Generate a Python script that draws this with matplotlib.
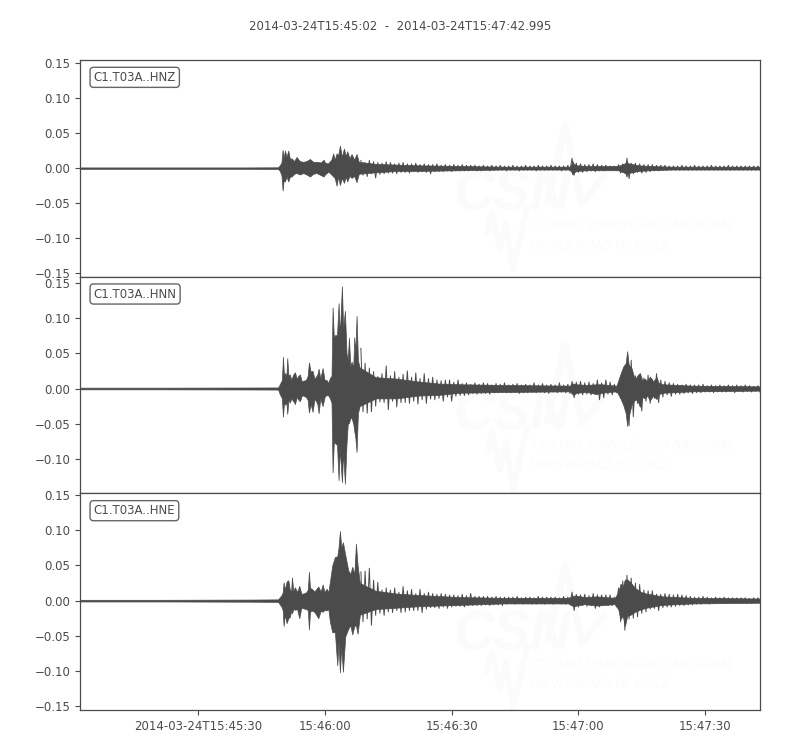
import matplotlib
matplotlib.use("Agg")
import matplotlib.pyplot as plt
import numpy as np

TITLE = "2014-03-24T15:45:02  -  2014-03-24T15:47:42.995"
DURATION = 160.995
CHANNELS = ["C1.T03A..HNZ", "C1.T03A..HNN", "C1.T03A..HNE"]
TICK_SECONDS = [28, 58, 88, 118, 148]
TICK_LABELS = ["2014-03-24T15:45:30", "15:46:00", "15:46:30", "15:47:00", "15:47:30"]
Y_TICKS = [-0.15, -0.10, -0.05, 0.00, 0.05, 0.10, 0.15]
Y_LIMITS = [(-0.1546, 0.1540), (-0.1487, 0.1586), (-0.1555, 0.1525)]

# body of each trace (seconds since start, upper, lower)
hnz_t = [0, 20, 40, 46.9, 47.3, 47.7, 47.97, 48.2, 48.52, 48.9, 49.31, 49.7, 50.1, 50.7, 51.28, 52.0, 52.86,
         53.6, 54.44, 55.2, 56.02, 57.0, 57.7, 57.99, 58.4, 58.78, 59.5, 59.96, 60.3, 60.75, 61.1, 61.54, 62.0,
         62.49, 62.9, 63.27, 63.8, 64.3, 64.9, 65.48, 66, 70, 75, 80, 90, 100, 115.9, 116.3, 116.6, 116.9, 117.6,
         120, 127.4, 128.2, 129.1, 129.4, 129.7, 130.6, 132.2, 135, 140, 160.995]
hnz_up = [0.001, 0.001, 0.001, 0.0012, 0.004, 0.008, 0.026, 0.014, 0.025, 0.016, 0.025, 0.013, 0.014, 0.010, 0.016,
          0.010, 0.009, 0.010, 0.013, 0.009, 0.009, 0.008, 0.012, 0.008, 0.007, 0.007, 0.012, 0.021, 0.012, 0.021,
          0.018, 0.032, 0.016, 0.028, 0.017, 0.024, 0.014, 0.020, 0.012, 0.020, 0.009, 0.006, 0.005, 0.004, 0.003,
          0.002, 0.002, 0.005, 0.010, 0.006, 0.004, 0.003, 0.003, 0.005, 0.007, 0.010, 0.007, 0.006, 0.004, 0.003,
          0.002, 0.002]
hnz_lo = [-0.001, -0.001, -0.001, -0.0012, -0.004, -0.010, -0.032, -0.018, -0.019, -0.012, -0.019, -0.012, -0.012,
          -0.008, -0.007, -0.009, -0.007, -0.009, -0.012, -0.008, -0.007, -0.010, -0.012, -0.009, -0.007, -0.005,
          -0.009, -0.012, -0.014, -0.025, -0.012, -0.024, -0.014, -0.021, -0.012, -0.019, -0.011, -0.014, -0.011,
          -0.020, -0.008, -0.006, -0.004, -0.004, -0.003, -0.002, -0.002, -0.005, -0.009, -0.006, -0.004, -0.003,
          -0.003, -0.005, -0.007, -0.012, -0.007, -0.006, -0.004, -0.003, -0.002, -0.002]

hnn_t = [0, 20, 40, 46.9, 47.3, 47.8, 48.05, 48.3, 48.6, 48.85, 49.07, 49.35, 49.7, 50.0, 50.5, 50.89, 51.3, 51.7,
         52.07, 52.5, 52.86, 53.49, 53.9, 54.2, 54.6, 55.07, 55.5, 55.78, 56.2, 56.49, 56.9, 57.44, 57.9, 58.38,
         58.8, 59.17, 59.55, 59.8, 60.1, 60.43, 60.85, 61.22, 61.5, 62.01, 62.3, 62.72, 63.1, 63.4, 63.67, 64.0,
         64.3, 64.7, 64.93, 65.2, 65.48, 65.8, 66.2, 70, 75, 80, 85, 90, 100, 116, 116.4, 116.8, 117.6, 120, 122.3,
         123.5, 127.03, 127.8, 128.6, 129.2, 129.55, 129.9, 130.58, 131.37, 131.9, 132.55, 133.1, 133.73, 134.3,
         134.92, 135.7, 136.5, 137.0, 138, 145, 160.995]
hnn_up = [0.0012, 0.0012, 0.0014, 0.0015, 0.006, 0.012, 0.045, 0.018, 0.022, 0.016, 0.043, 0.018, 0.020, 0.012, 0.020,
          0.023, 0.014, 0.018, 0.020, 0.010, 0.011, 0.012, 0.018, 0.037, 0.024, 0.025, 0.014, 0.016, 0.020, 0.028,
          0.014, 0.029, 0.012, 0.012, 0.008, 0.015, 0.018, 0.115, 0.072, 0.076, 0.075, 0.121, 0.075, 0.145, 0.085,
          0.110, 0.050, 0.040, 0.072, 0.032, 0.038, 0.030, 0.073, 0.050, 0.103, 0.040, 0.030, 0.016, 0.014, 0.010,
          0.007, 0.006, 0.005, 0.004, 0.007, 0.007, 0.006, 0.005, 0.006, 0.006, 0.004, 0.018, 0.031, 0.036, 0.053,
          0.034, 0.029, 0.012, 0.018, 0.022, 0.012, 0.014, 0.010, 0.017, 0.010, 0.016, 0.008, 0.006, 0.004, 0.003]
hnn_lo = [-0.0012, -0.0012, -0.0014, -0.0015, -0.008, -0.014, -0.040, -0.020, -0.023, -0.018, -0.036, -0.016, -0.020,
          -0.014, -0.018, -0.022, -0.012, -0.016, -0.018, -0.010, -0.010, -0.012, -0.016, -0.034, -0.022, -0.033,
          -0.015, -0.017, -0.022, -0.035, -0.014, -0.025, -0.012, -0.009, -0.010, -0.014, -0.020, -0.119, -0.075,
          -0.078, -0.080, -0.130, -0.085, -0.133, -0.090, -0.135, -0.078, -0.050, -0.049, -0.042, -0.042, -0.050,
          -0.060, -0.070, -0.090, -0.035, -0.025, -0.014, -0.014, -0.010, -0.009, -0.006, -0.005, -0.004, -0.007,
          -0.009, -0.006, -0.005, -0.008, -0.006, -0.004, -0.012, -0.023, -0.035, -0.053, -0.040, -0.023, -0.016,
          -0.016, -0.026, -0.012, -0.014, -0.010, -0.017, -0.010, -0.015, -0.008, -0.006, -0.004, -0.003]

hne_t = [0, 20, 40, 46.9, 47.73, 48.0, 48.2, 48.5, 48.91, 49.31, 49.7, 50.0, 50.18, 50.5, 50.89, 51.4, 51.91, 52.4,
         52.86, 53.6, 53.95, 54.2, 54.45, 54.83, 55.5, 56.41, 57.0, 57.44, 57.9, 58.38, 58.8, 59.17, 59.72, 60.35,
         60.91, 61.2, 61.54, 61.85, 62.25, 62.8, 63.51, 64.0, 64.46, 64.95, 65.33, 65.72, 66.27, 70, 75, 80, 90,
         100, 115.6, 116.77, 117.56, 119.53, 122.29, 126.63, 127.42, 127.97, 128.5, 129.0, 129.55, 130.34, 131.37,
         132.94, 134.13, 138, 145, 160.995]
hne_up = [0.0012, 0.0012, 0.0015, 0.0018, 0.008, 0.012, 0.026, 0.016, 0.027, 0.029, 0.015, 0.014, 0.033, 0.014, 0.019,
          0.012, 0.021, 0.010, 0.010, 0.012, 0.016, 0.041, 0.018, 0.017, 0.013, 0.020, 0.013, 0.023, 0.012, 0.017,
          0.012, 0.027, 0.050, 0.062, 0.063, 0.075, 0.099, 0.076, 0.083, 0.065, 0.043, 0.038, 0.048, 0.038, 0.081,
          0.050, 0.025, 0.014, 0.010, 0.008, 0.005, 0.004, 0.004, 0.007, 0.007, 0.005, 0.006, 0.004, 0.012, 0.024,
          0.020, 0.030, 0.030, 0.026, 0.018, 0.012, 0.010, 0.006, 0.004, 0.003]
hne_lo = [-0.0012, -0.0012, -0.0015, -0.0018, -0.009, -0.014, -0.036, -0.020, -0.032, -0.025, -0.023, -0.014, -0.018,
          -0.012, -0.013, -0.012, -0.025, -0.010, -0.011, -0.012, -0.014, -0.041, -0.016, -0.014, -0.016, -0.025,
          -0.014, -0.016, -0.013, -0.014, -0.012, -0.030, -0.045, -0.045, -0.092, -0.060, -0.102, -0.065, -0.101,
          -0.051, -0.040, -0.035, -0.048, -0.036, -0.035, -0.047, -0.020, -0.012, -0.010, -0.008, -0.006, -0.004,
          -0.004, -0.008, -0.007, -0.005, -0.007, -0.005, -0.012, -0.026, -0.022, -0.036, -0.022, -0.020, -0.016,
          -0.012, -0.010, -0.006, -0.004, -0.003]

# coda wiggle, every half second from WAVE_START on, in thousandths
WAVE_START = 66.5
hnz_wave = [11, -10, 8, -12, 11, -8, 9, -14, 8, -9, 7, -8, 9, -7, 8, -7, 6, -8, 7, -6,
            8, -6, 6, -7, 6, -5, 7, -6, 5, -5, 6, -6, 5, -8, 5, -5, 6, -5, 4, -5,
            5, -4, 4, -5, 5, -4, 4, -4, 5, -4, 4, -4, 4, -3, 4, -4, 3, -4, 4, -3,
            3, -4, 4, -3, 3, -3, 4, -3, 3, -4, 3, -3, 4, -3, 3, -4, 3, -3, 4, -3,
            3, -3, 3, -4, 4, -3, 3, -3, 3, -3, 4, -3, 3, -3, 3, -4, 3, -3, 4, -4,
            14, -10, 7, -6, 6, -6, 5, -5, 5, -4, 6, -5, 5, -4, 4, -4, 4, -3, 3, -3,
            3, -3, 5, -7, 6, -7, 14, -15, 7, -8, 7, -6, 6, -7, 5, -6, 5, -5, 5, -4,
            4, -4, 4, -3, 4, -3, 3, -3, 3, -3, 3, -3, 4, -3, 3, -3, 3, -3, 4, -3,
            3, -3, 3, -3, 3, -3, 4, -3, 3, -3, 3, -3, 3, -3, 4, -3, 3, -3, 3, -3,
            3, -3, 3, -3, 3, -3, 3, -3, 3, -3]
hnn_wave = [57, -33, 36, -35, 29, -33, 24, -25, 17, -19, 21, -20, 32, -30, 18, -18, 24, -26, 16, -20,
            20, -20, 25, -21, 16, -18, 22, -22, 14, -16, 21, -21, 14, -15, 16, -16, 12, -14, 11, -18,
            12, -12, 12, -18, 9, -11, 12, -10, 7, -10, 8, -9, 6, -7, 8, -8, 6, -7, 8, -7,
            7, -8, 5, -6, 7, -6, 6, -5, 8, -6, 5, -6, 6, -5, 7, -7, 5, -6, 6, -6,
            5, -5, 8, -6, 5, -5, 7, -6, 5, -7, 6, -5, 5, -6, 8, -5, 5, -6, 6, -7,
            10, -13, 9, -8, 10, -9, 8, -8, 9, -9, 7, -8, 12, -16, 8, -13, 12, -8, 9, -9,
            6, -6, 6, -14, 22, -23, 36, -53, 40, -40, 18, -21, 20, -32, 15, -18, 19, -21, 13, -14,
            21, -20, 12, -12, 10, -9, 8, -11, 7, -8, 6, -8, 5, -7, 6, -6, 5, -7, 5, -6,
            5, -6, 6, -5, 4, -5, 5, -6, 4, -5, 5, -5, 4, -5, 5, -4, 4, -6, 5, -4,
            4, -5, 5, -4, 4, -5, 3, -4, 4, -5]
hne_wave = [41, -30, 42, -26, 46, -35, 29, -21, 26, -18, 15, -21, 18, -16, 15, -17, 18, -14, 12, -17,
            20, -16, 14, -14, 16, -14, 10, -14, 16, -17, 10, -12, 12, -10, 10, -10, 9, -11, 10, -9,
            9, -11, 8, -9, 8, -8, 7, -8, 9, -9, 7, -7, 10, -7, 6, -7, 6, -7, 6, -6,
            6, -7, 5, -6, 6, -6, 5, -7, 5, -5, 5, -4, 5, -5, 6, -4, 4, -5, 5, -4,
            5, -5, 4, -5, 6, -4, 5, -5, 5, -4, 5, -5, 5, -4, 4, -5, 6, -5, 5, -5,
            12, -14, 9, -9, 8, -7, 9, -8, 7, -7, 10, -11, 8, -9, 8, -6, 8, -7, 8, -7,
            5, -9, 18, -30, 28, -42, 36, -26, 32, -25, 25, -23, 23, -18, 15, -16, 14, -12, 14, -11,
            9, -14, 9, -10, 10, -9, 9, -9, 8, -8, 9, -7, 8, -7, 7, -6, 6, -6, 5, -5,
            5, -5, 6, -4, 5, -5, 4, -4, 5, -4, 4, -4, 5, -4, 4, -4, 4, -3, 4, -4,
            4, -3, 4, -4, 3, -4, 4, -3, 4, -3]

TRACES = [(hnz_t, hnz_up, hnz_lo, hnz_wave), (hnn_t, hnn_up, hnn_lo, hnn_wave), (hne_t, hne_up, hne_lo, hne_wave)]

GREY = "#4b4b4b"
FAINT = "#fbfbfb"


def to_axes(x, y, dy):
    # pixel position inside the first panel -> axes fraction
    return (x - 80) / 680, 1 - (y - 60 + dy) / 216.7


def watermark(ax, dy):
    ax.text(*to_axes(453, 210, dy), "CSN", transform=ax.transAxes, fontsize=40, color=FAINT, zorder=0,
            family="Liberation Sans", weight="bold", style="italic", ha="left", va="baseline")
    ax.text(*to_axes(533, 229, dy), "CENTRO SISMOLÓGICO NACIONAL", transform=ax.transAxes, fontsize=8.5,
            color=FAINT, zorder=0, family="Liberation Sans Narrow", style="italic", ha="left", va="baseline")
    ax.text(*to_axes(530, 249, dy), "UNIVERSIDAD DE CHILE", transform=ax.transAxes, fontsize=8.5,
            color=FAINT, zorder=0, family="Liberation Sans Narrow", style="italic", ha="left", va="baseline")
    for xs, ys, lw in [([548, 565, 582, 603], [200, 125, 203, 177], 5),
                       ([487, 492, 500, 506, 513, 527], [232, 212, 250, 222, 270, 208], 4)]:
        pts = [to_axes(x, y, dy) for x, y in zip(xs, ys)]
        ax.plot([p[0] for p in pts], [p[1] for p in pts], transform=ax.transAxes, color=FAINT, lw=lw, zorder=0)


fig, axes = plt.subplots(3, 1, sharex=True, figsize=(8, 7.5), dpi=100)
fig.subplots_adjust(left=0.1, right=0.95, top=0.92, bottom=0.0533, hspace=0)
fig.suptitle(TITLE, x=0.5, y=0.973, fontsize=8.45, color=GREY)

for i, ax in enumerate(axes):
    t, up, lo, wave = TRACES[i]
    watermark(ax, i * 3)
    ax.fill_between(t, lo, up, color=GREY, lw=0.5, zorder=2)
    wave_t = WAVE_START + 0.5 * np.arange(len(wave))
    ax.plot(wave_t, np.array(wave) / 1000, color=GREY, lw=0.7, zorder=2)
    ax.set_xlim(0, DURATION)
    ax.set_yticks(Y_TICKS)
    ax.set_yticklabels([f"{v:.2f}".replace("-", "\u2212") for v in Y_TICKS])
    ax.set_ylim(*Y_LIMITS[i])
    ax.tick_params(axis="y", labelsize=8.5, colors=GREY, length=3.5, width=0.8)
    ax.tick_params(axis="x", labelsize=8.5, colors=GREY, length=3.5, width=0.8)
    for s in ax.spines.values():
        s.set_color(GREY)
        s.set_linewidth(0.9)
    ax.text(0.02, 0.95, CHANNELS[i], transform=ax.transAxes, va="top", ha="left", fontsize=8.5, color=GREY,
            bbox=dict(boxstyle="round", fc="w", ec=GREY, alpha=0.85), zorder=5)

axes[0].set_xticks(TICK_SECONDS)
axes[-1].set_xticklabels(TICK_LABELS)
axes[0].tick_params(axis="x", which="both", bottom=False, labelbottom=False)
axes[1].tick_params(axis="x", which="both", bottom=False, labelbottom=False)

fig.savefig("out.png", dpi=100)
